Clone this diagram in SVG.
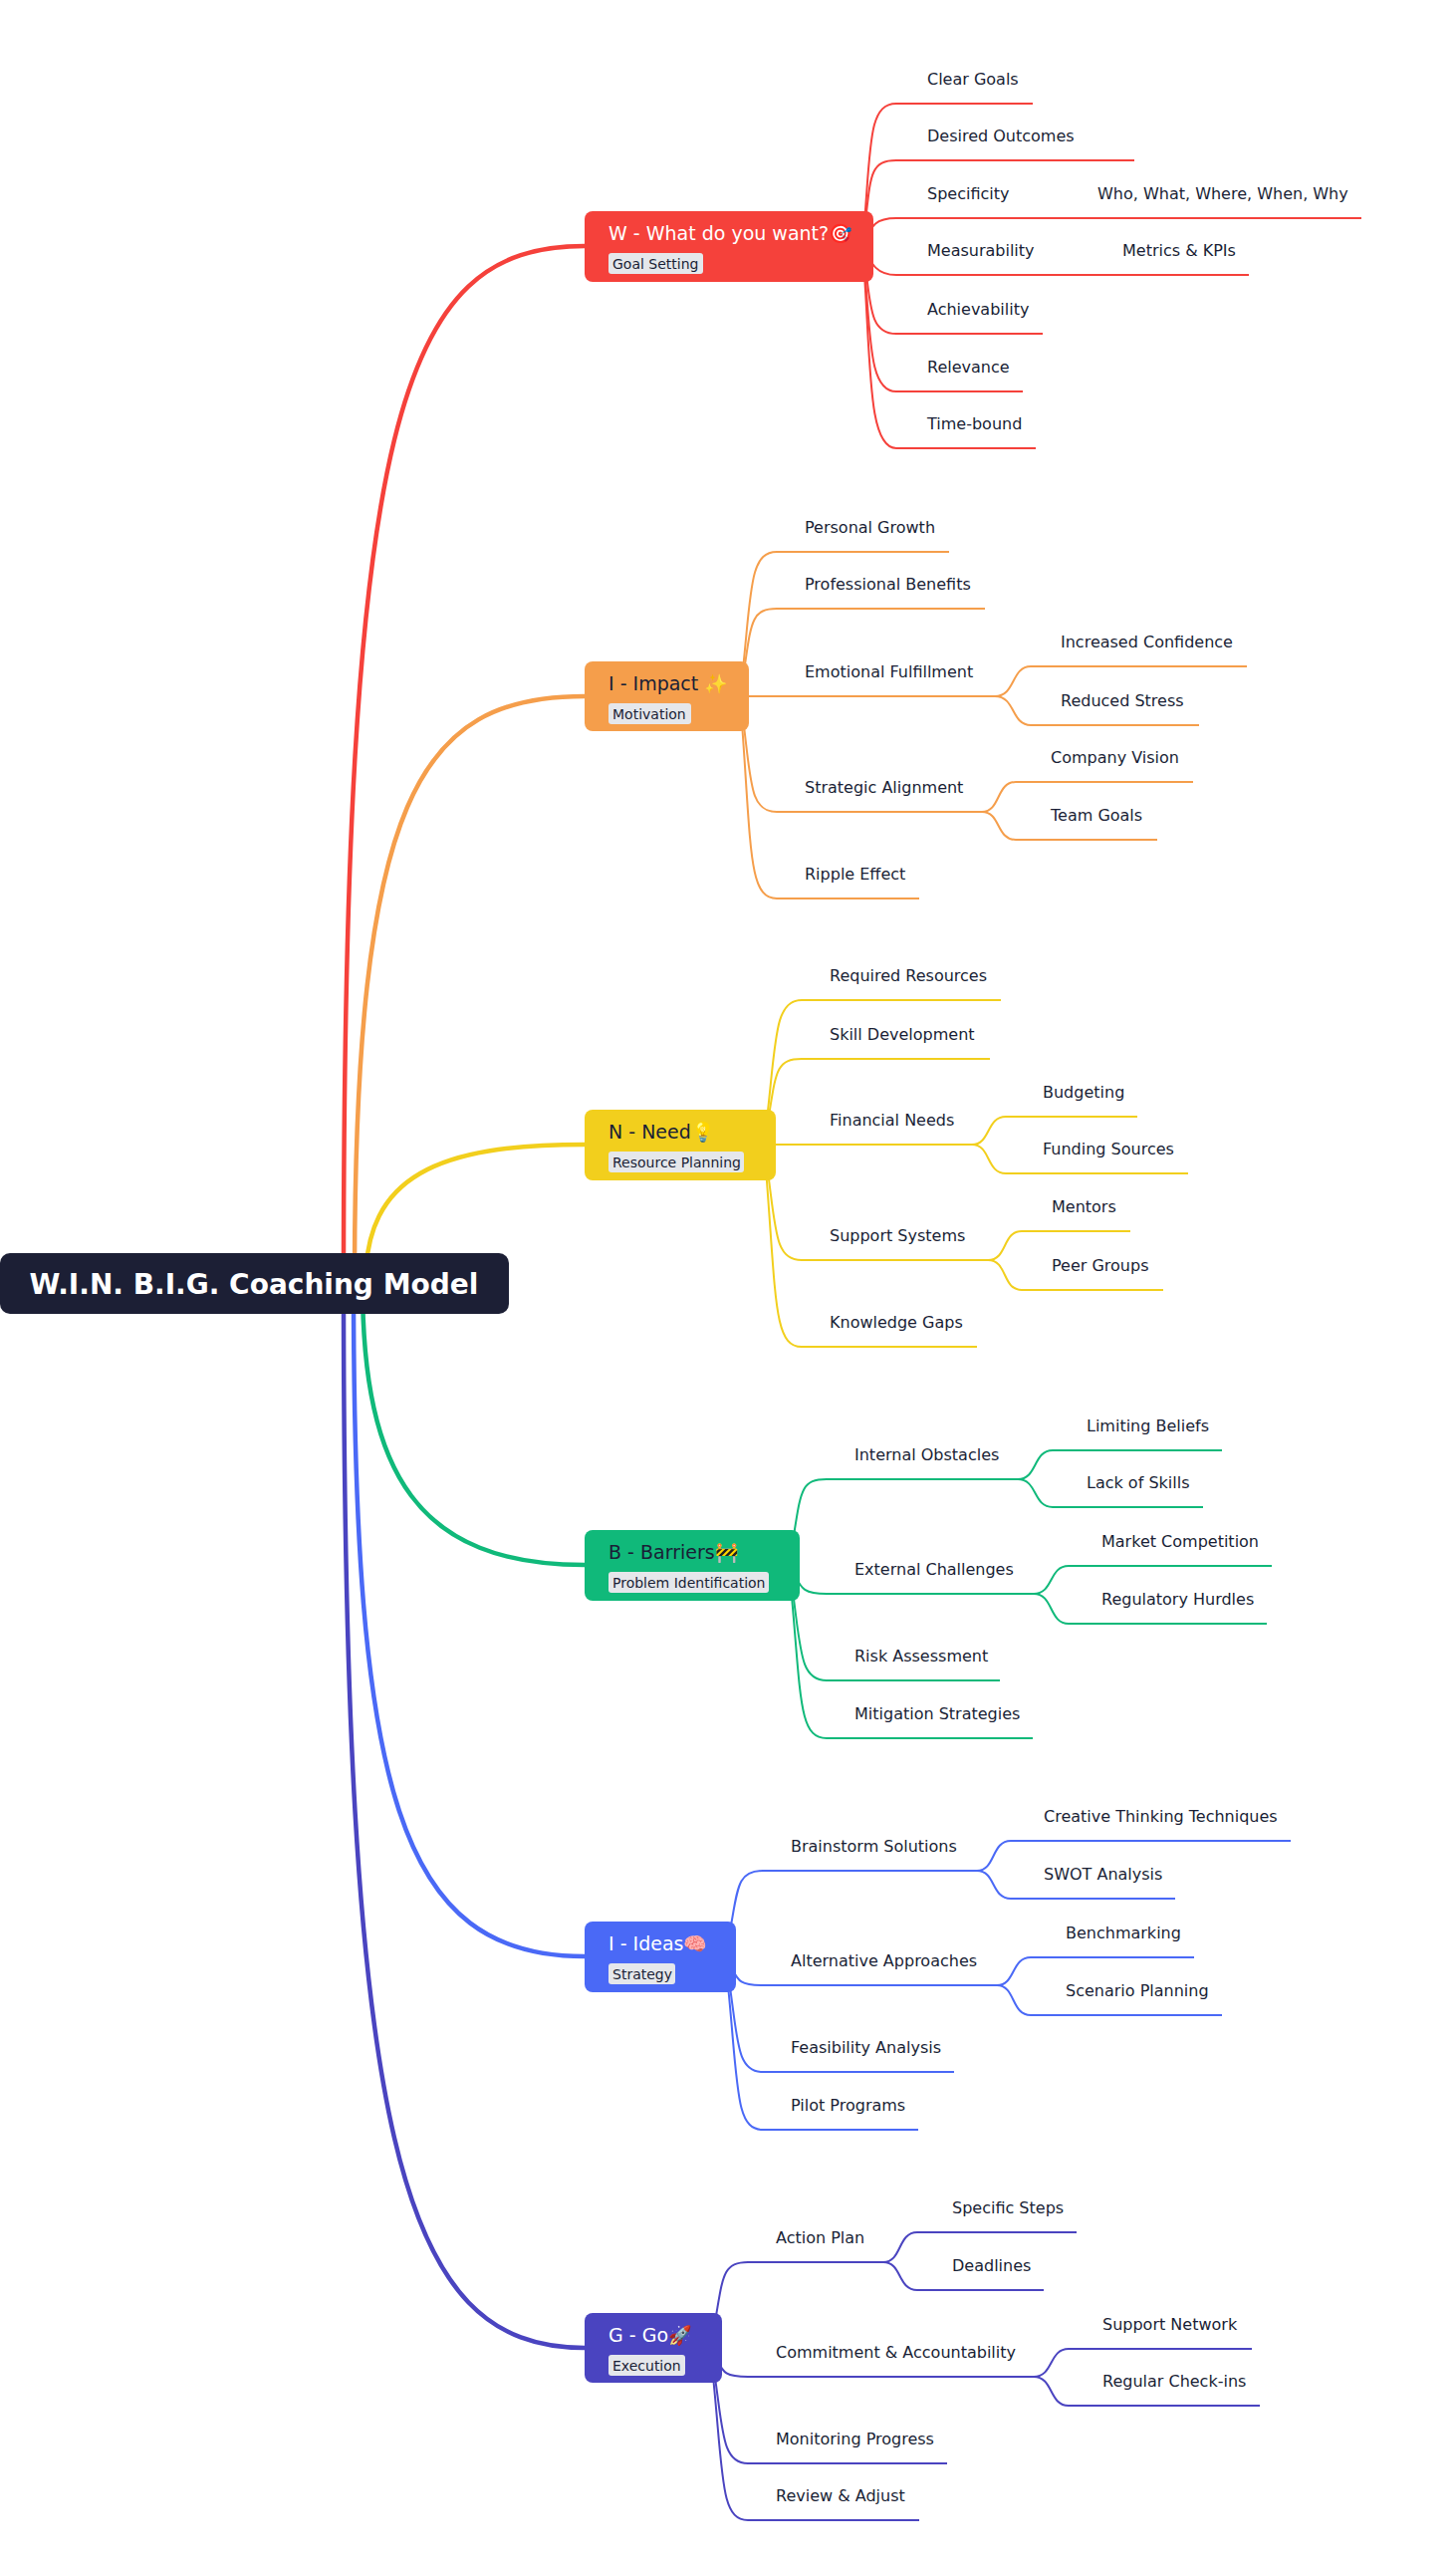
<svg xmlns="http://www.w3.org/2000/svg" width="1462" height="2577" viewBox="0 0 1462 2577">
<style>
text{font-family:"DejaVu Sans","Liberation Sans",sans-serif}
.l{font-size:16px;fill:#1a1f36}
.t{font-size:19px}
.tg{font-size:14px;fill:#1a1f36}
.tr{fill:#e5e7eb}
.c{fill:none;stroke-width:2}
.m{fill:none;stroke-width:4.5}
.r{stroke:#f5413b}.o{stroke:#f59e4b}.y{stroke:#f2cf1d}.g{stroke:#10b97a}.b{stroke:#4a69f6}.p{stroke:#4a44c0}
</style>
<rect width="1462" height="2577" fill="#fff"/>
<g id="connectors">
<path class="m r" d="M345,1288 C345,420 400,247 587,247"/>
<path class="m o" d="M356,1288 C356,800 420,699 587,699"/>
<path class="m y" d="M367,1288 C367,1180 440,1149 587,1149"/>
<path class="m g" d="M364,1288 C364,1480 420,1571 587,1571"/>
<path class="m b" d="M355,1288 C355,1800 400,1964 587,1964"/>
<path class="m p" d="M345,1288 C345,2150 400,2357 587,2357"/>
<g class="c r">
<path d="M866,247 C875,150 870,104 900,104 H1037"/>
<path d="M866,247 C875,180 870,161 900,161 H1139"/>
<path d="M866,247 C875,225 880,219 900,219 H1367"/>
<path d="M866,247 C875,265 880,276 900,276 H1254"/>
<path d="M866,247 C875,300 870,335 900,335 H1047"/>
<path d="M866,247 C875,330 870,393 900,393 H1027"/>
<path d="M866,247 C875,360 870,450 900,450 H1040"/>
</g>
<g class="c o">
<path d="M743,699 C755,600 750,554 780,554 H953"/>
<path d="M743,699 C755,630 750,611 780,611 H989"/>
<path d="M743,699 H999"/>
<path d="M999,699 C1020,699 1015,669 1035,669 H1252"/>
<path d="M999,699 C1020,699 1015,728 1035,728 H1204"/>
<path d="M743,699 C755,780 750,815 780,815 H986"/>
<path d="M986,815 C1005,815 1000,785 1020,785 H1198"/>
<path d="M986,815 C1005,815 1000,843 1020,843 H1162"/>
<path d="M743,699 C755,850 750,902 780,902 H923"/>
</g>
<g class="c y">
<path d="M767,1149 C780,1050 775,1004 805,1004 H1005"/>
<path d="M767,1149 C780,1080 775,1063 805,1063 H994"/>
<path d="M767,1149 H976"/>
<path d="M976,1149 C995,1149 990,1121 1010,1121 H1142"/>
<path d="M976,1149 C995,1149 990,1178 1010,1178 H1193"/>
<path d="M767,1149 C780,1230 775,1265 805,1265 H992"/>
<path d="M992,1265 C1012,1265 1006,1236 1026,1236 H1135"/>
<path d="M992,1265 C1012,1265 1006,1295 1026,1295 H1168"/>
<path d="M767,1149 C780,1300 775,1352 805,1352 H981"/>
</g>
<g class="c g">
<path d="M792,1571 C805,1500 800,1485 830,1485 H1022"/>
<path d="M1022,1485 C1042,1485 1037,1456 1057,1456 H1227"/>
<path d="M1022,1485 C1042,1485 1037,1513 1057,1513 H1208"/>
<path d="M792,1571 C805,1590 800,1600 830,1600 H1038"/>
<path d="M1038,1600 C1058,1600 1053,1572 1073,1572 H1277"/>
<path d="M1038,1600 C1058,1600 1053,1630 1073,1630 H1272"/>
<path d="M792,1571 C805,1650 800,1687 830,1687 H1004"/>
<path d="M792,1571 C805,1700 800,1745 830,1745 H1037"/>
</g>
<g class="c b">
<path d="M728,1964 C742,1900 736,1878 766,1878 H981"/>
<path d="M981,1878 C1000,1878 995,1848 1015,1848 H1296"/>
<path d="M981,1878 C1000,1878 995,1906 1015,1906 H1180"/>
<path d="M728,1964 C742,1985 736,1993 766,1993 H1001"/>
<path d="M1001,1993 C1020,1993 1015,1965 1035,1965 H1199"/>
<path d="M1001,1993 C1020,1993 1015,2023 1035,2023 H1227"/>
<path d="M728,1964 C742,2040 736,2080 766,2080 H958"/>
<path d="M728,1964 C742,2090 736,2138 766,2138 H922"/>
</g>
<g class="c p">
<path d="M713,2357 C727,2290 721,2271 751,2271 H887"/>
<path d="M887,2271 C906,2271 901,2241 921,2241 H1081"/>
<path d="M887,2271 C906,2271 901,2299 921,2299 H1048"/>
<path d="M713,2357 C727,2378 721,2386 751,2386 H1038"/>
<path d="M1038,2386 C1058,2386 1053,2358 1073,2358 H1257"/>
<path d="M1038,2386 C1058,2386 1053,2415 1073,2415 H1265"/>
<path d="M713,2357 C727,2430 721,2473 751,2473 H951"/>
<path d="M713,2357 C727,2480 721,2530 751,2530 H923"/>
</g>
</g>
<g id="root">
<rect x="0" y="1258" width="511" height="61" rx="10" fill="#1c1f35"/>
<text x="255" y="1299" text-anchor="middle" font-size="28" font-weight="bold" fill="#fff">W.I.N. B.I.G. Coaching Model</text>
</g>
<g id="node-w">
<rect x="587" y="212" width="290" height="71" rx="8" fill="#f5413b"/>
<text x="611" y="241" class="t" fill="#fff">W - What do you want?🎯</text>
<rect class="tr" x="611" y="254" width="95" height="21" rx="3"/>
<text x="615" y="270" class="tg">Goal Setting</text>
<text class="l" x="931" y="85">Clear Goals</text>
<text class="l" x="931" y="142">Desired Outcomes</text>
<text class="l" x="931" y="200">Specificity</text>
<text class="l" x="1102" y="200">Who, What, Where, When, Why</text>
<text class="l" x="931" y="257">Measurability</text>
<text class="l" x="1127" y="257">Metrics &amp; KPIs</text>
<text class="l" x="931" y="316">Achievability</text>
<text class="l" x="931" y="374">Relevance</text>
<text class="l" x="931" y="431">Time-bound</text>
</g>
<g id="node-i">
<rect x="587" y="664" width="165" height="70" rx="8" fill="#f59e4b"/>
<text x="611" y="693" class="t" fill="#1a1f36">I - Impact ✨</text>
<rect class="tr" x="611" y="706" width="83" height="21" rx="3"/>
<text x="615" y="722" class="tg">Motivation</text>
<text class="l" x="808" y="535">Personal Growth</text>
<text class="l" x="808" y="592">Professional Benefits</text>
<text class="l" x="808" y="680">Emotional Fulfillment</text>
<text class="l" x="1065" y="650">Increased Confidence</text>
<text class="l" x="1065" y="709">Reduced Stress</text>
<text class="l" x="808" y="796">Strategic Alignment</text>
<text class="l" x="1055" y="766">Company Vision</text>
<text class="l" x="1055" y="824">Team Goals</text>
<text class="l" x="808" y="883">Ripple Effect</text>
</g>
<g id="node-n">
<rect x="587" y="1114" width="192" height="71" rx="8" fill="#f2cf1d"/>
<text x="611" y="1143" class="t" fill="#1a1f36">N - Need💡</text>
<rect class="tr" x="611" y="1156" width="136" height="21" rx="3"/>
<text x="615" y="1172" class="tg">Resource Planning</text>
<text class="l" x="833" y="985">Required Resources</text>
<text class="l" x="833" y="1044">Skill Development</text>
<text class="l" x="833" y="1130">Financial Needs</text>
<text class="l" x="1047" y="1102">Budgeting</text>
<text class="l" x="1047" y="1159">Funding Sources</text>
<text class="l" x="833" y="1246">Support Systems</text>
<text class="l" x="1056" y="1217">Mentors</text>
<text class="l" x="1056" y="1276">Peer Groups</text>
<text class="l" x="833" y="1333">Knowledge Gaps</text>
</g>
<g id="node-b">
<rect x="587" y="1536" width="216" height="71" rx="8" fill="#10b97a"/>
<text x="611" y="1565" class="t" fill="#1a1f36">B - Barriers🚧</text>
<rect class="tr" x="611" y="1578" width="161" height="21" rx="3"/>
<text x="615" y="1594" class="tg">Problem Identification</text>
<text class="l" x="858" y="1466">Internal Obstacles</text>
<text class="l" x="1091" y="1437">Limiting Beliefs</text>
<text class="l" x="1091" y="1494">Lack of Skills</text>
<text class="l" x="858" y="1581">External Challenges</text>
<text class="l" x="1106" y="1553">Market Competition</text>
<text class="l" x="1106" y="1611">Regulatory Hurdles</text>
<text class="l" x="858" y="1668">Risk Assessment</text>
<text class="l" x="858" y="1726">Mitigation Strategies</text>
</g>
<g id="node-ideas">
<rect x="587" y="1929" width="152" height="71" rx="8" fill="#4a69f6"/>
<text x="611" y="1958" class="t" fill="#fff">I - Ideas🧠</text>
<rect class="tr" x="611" y="1971" width="67" height="21" rx="3"/>
<text x="615" y="1987" class="tg">Strategy</text>
<text class="l" x="794" y="1859">Brainstorm Solutions</text>
<text class="l" x="1048" y="1829">Creative Thinking Techniques</text>
<text class="l" x="1048" y="1887">SWOT Analysis</text>
<text class="l" x="794" y="1974">Alternative Approaches</text>
<text class="l" x="1070" y="1946">Benchmarking</text>
<text class="l" x="1070" y="2004">Scenario Planning</text>
<text class="l" x="794" y="2061">Feasibility Analysis</text>
<text class="l" x="794" y="2119">Pilot Programs</text>
</g>
<g id="node-g">
<rect x="587" y="2322" width="138" height="70" rx="8" fill="#4a44c0"/>
<text x="611" y="2351" class="t" fill="#fff">G - Go🚀</text>
<rect class="tr" x="611" y="2364" width="77" height="21" rx="3"/>
<text x="615" y="2380" class="tg">Execution</text>
<text class="l" x="779" y="2252">Action Plan</text>
<text class="l" x="956" y="2222">Specific Steps</text>
<text class="l" x="956" y="2280">Deadlines</text>
<text class="l" x="779" y="2367">Commitment &amp; Accountability</text>
<text class="l" x="1107" y="2339">Support Network</text>
<text class="l" x="1107" y="2396">Regular Check-ins</text>
<text class="l" x="779" y="2454">Monitoring Progress</text>
<text class="l" x="779" y="2511">Review &amp; Adjust</text>
</g>
</svg>
